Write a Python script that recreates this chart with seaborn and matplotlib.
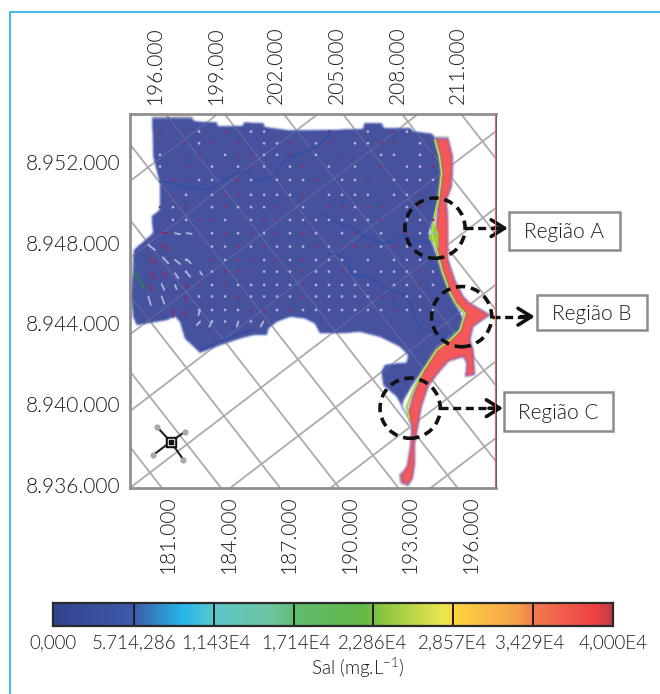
import numpy as np
import pandas as pd
import seaborn as sns
from matplotlib import pyplot as plt
from matplotlib.colors import LinearSegmentedColormap
from matplotlib.lines import Line2D
from matplotlib.patches import Circle, Rectangle

# map coordinates in km: east, and north above 8.936.000
top_ticks = [196, 199, 202, 205, 208, 211]
top_labels = ["196.000", "199.000", "202.000", "205.000", "208.000", "211.000"]
bottom_ticks = [181, 184, 187, 190, 193, 196]
bottom_labels = ["181.000", "184.000", "187.000", "190.000", "193.000", "196.000"]
left_ticks = [16, 12, 8, 4, 0]
left_labels = ["8.952.000", "8.948.000", "8.944.000", "8.940.000", "8.936.000"]
bottom_offset = 15.643

cbar_labels = ["0,000", "5.714,286", "1,143E4", "1,714E4", "2,286E4", "2,857E4", "3,429E4", "4,000E4"]
cbar_max = 40000
cbar_stops = [(0.00, "#33448f"), (0.14, "#3d5aa8"), (0.23, "#25b8ea"), (0.285, "#5cc6cc"),
              (0.39, "#6ec59c"), (0.43, "#5fbb70"), (0.555, "#63b946"), (0.59, "#8cc63f"),
              (0.70, "#ece74f"), (0.715, "#fdd63f"), (0.83, "#f6a04a"), (0.86, "#f17b4c"),
              (0.97, "#ee4044"), (1.00, "#c23b44")]

land_e = [195.87, 197.82, 197.93, 199.06, 199.09, 200.38, 200.41, 201.37, 201.40, 202.69, 204.67, 206.32,
          206.36, 207.22, 207.31, 208.63, 208.79, 209.70, 209.86, 210.11, 210.19, 210.03, 209.86, 209.53,
          209.95, 210.19, 210.61, 210.94, 211.27, 211.10, 210.61, 210.28, 209.86, 209.37, 208.79, 208.30,
          208.21, 208.46, 207.97, 207.31, 207.22, 207.39, 208.13, 208.46, 208.54, 208.13, 207.14, 206.15,
          205.16, 204.17, 203.92, 203.43, 202.69, 202.03, 201.61, 201.53, 200.87, 200.21, 199.22, 198.23,
          197.49, 197.24, 196.99, 196.58, 195.10, 194.93, 194.85, 194.96, 195.92, 195.84, 196.25, 196.25, 195.92]
land_n = [18.15, 18.15, 17.99, 17.94, 17.74, 17.77, 17.94, 17.90, 17.71, 17.54, 17.57, 17.61,
          17.90, 17.90, 17.66, 17.66, 17.49, 17.38, 17.16, 16.25, 15.43, 14.11, 13.45, 12.46,
          11.30, 10.65, 9.49, 8.83, 8.17, 7.51, 7.26, 6.85, 6.27, 5.86, 5.04, 4.21,
          3.88, 3.47, 4.38, 4.95, 5.61, 5.94, 6.03, 6.03, 6.44, 6.85, 7.34, 7.59,
          7.51, 7.51, 8.00, 8.25, 8.33, 8.09, 7.76, 7.43, 7.43, 7.26, 6.93, 6.55,
          7.26, 8.09, 8.37, 8.17, 7.92, 8.33, 9.33, 11.63, 12.46, 13.29, 13.61, 14.93, 16.25]

salt_e = [209.86, 210.52, 210.74, 210.74, 210.69, 210.44, 210.52, 210.52, 210.52, 210.85, 211.27, 211.60,
          212.59, 211.76, 211.60, 211.76, 211.84, 211.35, 211.43, 211.27, 210.52, 209.95, 209.53, 209.20,
          209.04, 208.87, 208.87, 208.76, 208.54, 208.21, 208.16, 208.46, 208.63, 208.71, 208.49, 208.79,
          209.29, 209.95, 210.61, 211.10, 211.35, 210.85, 210.61, 210.19, 209.95, 209.86, 210.03, 210.19, 210.11]
salt_n = [17.16, 17.16, 16.25, 15.60, 14.77, 14.11, 12.95, 12.13, 11.14, 10.15, 9.33, 9.00,
          8.42, 7.84, 7.18, 6.69, 5.45, 5.36, 6.03, 6.35, 6.11, 5.45, 4.87, 3.88,
          2.97, 2.06, 1.07, 0.33, 0.00, 0.08, 0.50, 0.91, 1.90, 2.89, 3.47, 4.54,
          5.69, 6.77, 7.26, 7.67, 8.50, 9.00, 9.49, 10.65, 11.63, 12.46, 14.11, 15.43, 16.25]

mix_e = [209.86, 210.08, 210.19, 210.03, 209.86, 209.70, 209.95, 210.19, 210.61, 210.94, 211.35, 211.10,
         210.61, 209.95, 209.29, 208.79, 208.46, 208.59]
mix_n = [17.08, 16.25, 15.43, 14.11, 13.45, 12.46, 11.63, 10.65, 9.49, 8.91, 8.50, 7.67,
         7.18, 6.69, 5.69, 4.70, 3.88, 3.22]
patch_e = [209.53, 209.86, 210.03, 210.03, 209.78]
patch_n = [12.21, 12.92, 12.46, 11.72, 11.97]

rivers = {
    "r1": ([196.25, 197.24, 197.82, 198.73, 199.88, 200.54, 201.12, 201.86, 202.36, 203.18, 204.00, 204.58, 204.70],
           [15.02, 14.85, 14.69, 14.61, 15.35, 15.51, 15.02, 15.27, 16.01, 16.42, 16.75, 17.25, 17.49]),
    "r2": ([204.17, 204.83, 205.82, 206.48, 207.31, 207.97, 208.30, 208.79, 209.53],
           [13.53, 13.04, 12.71, 12.21, 11.97, 12.05, 12.38, 12.13, 11.97]),
    "r3": ([204.50, 205.00, 205.49, 205.74, 206.56, 207.31, 208.30, 208.63, 208.87, 209.29, 209.95, 210.52],
           [11.39, 11.47, 11.14, 10.40, 10.31, 9.82, 9.41, 9.00, 8.17, 7.68, 7.51, 7.26]),
    "r4": ([198.23, 199.22, 200.21, 200.87], [6.69, 7.10, 7.51, 7.68]),
}

# velocity marks: one string per row, w = light, r = maroon, . = none
dot_cols = [196.25, 196.89, 197.54, 198.18, 198.82, 199.47, 200.11, 200.75, 201.40, 202.04, 202.68,
            203.33, 203.97, 204.61, 205.26, 205.90, 206.54, 207.19, 207.83, 208.47, 209.12, 209.76]
dot_rows = [17.49, 16.91, 16.34, 15.76, 15.10, 14.36, 13.75, 13.12, 12.46, 11.80, 11.14, 10.56, 9.90, 9.33, 8.66, 8.09]
dot_flags = ["r..w.r.ww....r..w.rw..",
             "r.rwr.r.wwr.wr.wwrr.w.",
             "w.rr.wrrwwr.w.r..ww.wr",
             "w.r.w.wrw.wr.w.w.r.wwr",
             ".rrww.rw.wwwr.wwr.wwww",
             ".rw.wrrwwwwr.wwww.wwr.",
             "rwr.wrwwwr.w.rrwrr.wr.",
             ".wwrrw.wrrwwwwwwwr.wwr",
             "....wrwrwrwrw.wr.w.rww",
             "....wwrwrwwwrwrrrwrww.",
             "..w.rwrrwrwrwww.w.www.",
             "..w.wrrrwwwrwwrw.wwwrw",
             "...rwrwwwwwrwwwww.wwrw",
             "...wwwrwwwwrwwwwwrrww.",
             "...wwwwrrwrwwwwwwwrwww",
             "....ww.wr............."]

# larger arrows in the south-west corner: start, end, colour
arrow_e0 = [195.67, 196.33, 195.75, 196.38, 196.99, 197.57, 195.75, 196.33, 196.99, 197.57, 198.23, 195.67,
            196.33, 196.99, 197.54, 195.67, 196.33, 196.89, 197.54, 197.54, 196.33, 196.99, 197.57, 198.23, 198.23, 198.81, 201.37, 200.13]
arrow_n0 = [11.88, 11.88, 11.22, 11.27, 11.14, 11.17, 10.56, 10.56, 10.48, 10.51, 10.56, 9.90,
            9.94, 9.90, 9.95, 9.33, 9.33, 8.66, 9.33, 8.66, 12.46, 12.46, 12.46, 8.66, 8.09, 8.09, 8.09, 8.09]
arrow_e1 = [196.00, 196.66, 196.05, 196.66, 197.24, 197.77, 196.05, 196.61, 197.16, 197.74, 198.33, 195.89,
            196.46, 197.07, 197.60, 195.79, 196.46, 196.89, 197.54, 197.50, 196.66, 197.24, 197.82, 198.15, 198.07, 198.69, 201.23, 200.05]
arrow_n1 = [11.63, 11.63, 10.97, 10.97, 10.94, 10.97, 10.23, 10.28, 10.23, 10.31, 10.40, 9.62,
            9.66, 9.69, 9.74, 8.91, 8.97, 8.33, 9.08, 8.36, 12.46, 12.41, 12.43, 8.41, 7.92, 7.84, 7.84, 7.84]
arrow_kind = ["w", "r", "r", "w", "w", "w", "r", "r", "w", "w", "w", "r",
              "w", "w", "r", "w", "w", "r", "r", "r", "r", "w", "w", "w", "w", "w", "w", "w"]

circle_e = [209.86, 211.18, 208.63]
circle_n = [12.71, 8.33, 3.80]
circle_radius = 1.49
region_names = ["Região A", "Região B", "Região C"]
region_tip_e = [213.47, 214.80, 213.23]

compass_e = [196.08, 197.49, 195.92, 197.41]
compass_n = [2.89, 2.64, 1.49, 1.24]
compass_center = (196.78, 2.14)

grid_color = "#ababab"
land_color = "#47529f"
salt_color = "#f4585a"
mark_colors = {"w": "#a9afd9", "r": "#84306c"}
W, H = 660, 694


def px_axes(x0, y0, x1, y1):
    return [x0 / W, 1 - y1 / H, (x1 - x0) / W, (y1 - y0) / H]


def soften(img, dpi):
    # the source map is a blurry raster, so take the hard edge off
    pad = 2
    out = np.pad(img, ((pad, pad), (pad, pad), (0, 0)))
    kernel = np.array([1, 2, 3, 2, 1]) / 9
    out = np.apply_along_axis(lambda m: np.convolve(m, kernel, mode="same"), 0, out)
    out = np.apply_along_axis(lambda m: np.convolve(m, kernel, mode="same"), 1, out)
    return out, -pad, -pad


sns.set_theme(style="white")
plt.rcParams["font.family"] = ["Lato", "DejaVu Sans"]
plt.rcParams["font.weight"] = 300
plt.rcParams["mathtext.default"] = "regular"
text_color = "#1a1a1a"

fig = plt.figure(figsize=(W / 100, H / 100), dpi=100)
ax = fig.add_axes(px_axes(130, 114, 496, 488))
ax.set_xlim(194.7625, 212.88)
ax.set_ylim(-0.15, 18.36)

# rotated UTM grid behind the model domain
for k in range(-8, 9):
    ax.axline((199.415 + k * 1.832, 3.415 + k * 1.401), slope=-1.28, color=grid_color, lw=1.3, zorder=1)
    ax.axline((199.415 + k * 1.856, 3.415 - k * 2.376), slope=0.765, color=grid_color, lw=1.3, zorder=1)

land = ax.fill(land_e, land_n, color=land_color, ec="#3f55b0", lw=1, zorder=2)[0]
salt = ax.fill(salt_e, salt_n, color=salt_color, ec="#5a50b5", lw=0.9, zorder=3)[0]
land.set_agg_filter(soften)
salt.set_agg_filter(soften)

# grid lines show faintly through the domain
for k in range(-8, 9):
    for line in [ax.axline((199.415 + k * 1.832, 3.415 + k * 1.401), slope=-1.28),
                 ax.axline((199.415 + k * 1.856, 3.415 - k * 2.376), slope=0.765)]:
        line.set(color="#6e719f", lw=0.9, alpha=0.6, zorder=2.1)
        line.set_clip_path(land)

for name, (east, north) in rivers.items():
    sns.lineplot(x=east, y=north, sort=False, estimator=None, color="#2f4fa5", lw=1.2, ax=ax, zorder=2.5)

sns.lineplot(x=mix_e, y=mix_n, sort=False, estimator=None, color="#7cc24a", lw=1.6, ax=ax, zorder=4)
sns.lineplot(x=mix_e, y=mix_n, sort=False, estimator=None, color="#e8e652", lw=0.6, ax=ax, zorder=4.2)
ax.fill(patch_e, patch_n, color="#8fd03f", lw=0, zorder=4.1)

east_grid, north_grid = np.meshgrid(dot_cols, dot_rows)
dots = pd.DataFrame({"east": east_grid.ravel(), "north": north_grid.ravel(), "kind": list("".join(dot_flags))})
dots = dots[dots.kind != "."]
sns.scatterplot(data=dots, x="east", y="north", hue="kind", palette=mark_colors,
                s=4, marker="o", linewidth=0, legend=False, ax=ax, zorder=5)

for e0, n0, e1, n1, kind in zip(arrow_e0, arrow_n0, arrow_e1, arrow_n1, arrow_kind):
    sns.lineplot(x=[e0, e1], y=[n0, n1], sort=False, estimator=None, lw=1.4,
                 color=mark_colors[kind], ax=ax, zorder=5)
sns.lineplot(x=[194.99, 195.46], y=[10.56, 9.74], sort=False, estimator=None, lw=1.2, color="#1f8a4c", ax=ax, zorder=5)

# compass symbol
for e, n in zip(compass_e, compass_n):
    ax.plot([compass_center[0], e], [compass_center[1], n], color="#222222", lw=1.5, zorder=5)
ax.scatter(compass_e, compass_n, s=12, color="#a4aab2", zorder=6)
ax.scatter(*compass_center, s=48, marker="s", color="#111111", zorder=6)
ax.scatter(*compass_center, s=18, marker="s", color="#dfe8ee", zorder=7)
ax.scatter(*compass_center, s=5, marker="s", color="#111111", zorder=8)

# dashed circles, arrows and region boxes
for e, n, tip in zip(circle_e, circle_n, region_tip_e):
    ax.add_patch(Circle((e, n), circle_radius, fill=False, ec="#111111", lw=2.6, ls=(0, (2.6, 1.6)), zorder=9, clip_on=False))
    ax.plot([e + circle_radius, tip - 0.5], [n, n], color="#111111", lw=2.4, ls=(0, (2.4, 1.4)), zorder=9, clip_on=False)
    ax.annotate("", xy=(tip, n), xytext=(tip - 0.7, n), annotation_clip=False, zorder=9,
                arrowprops=dict(arrowstyle="->,head_length=0.8,head_width=0.5", color="#111111", lw=2.6,
                                shrinkA=0, shrinkB=0))

box_px = [(509, 212, 620, 250), (537, 295, 647, 330), (504, 392, 613, 431)]
for name, (x0, y0, x1, y1) in zip(region_names, box_px):
    fig.add_artist(Rectangle((x0 / W, 1 - y1 / H), (x1 - x0) / W, (y1 - y0) / H, transform=fig.transFigure,
                             fc="white", ec="#8c8c8c", lw=1.8))
    fig.text((x0 + x1) / 2 / W, 1 - ((y0 + y1) / 2 + 1) / H, name, ha="center", va="center", fontsize=15,
             color=text_color)

# axes
ax.xaxis.tick_top()
ax.set_xticks(top_ticks, top_labels, rotation=90, fontsize=15, color=text_color)
ax.set_yticks(left_ticks, left_labels, fontsize=15, color=text_color)
ax.tick_params(axis="both", length=0, pad=7)
ax.set_xlabel("")
ax.set_ylabel("")
lower = ax.secondary_xaxis("bottom", functions=(lambda x: x - bottom_offset, lambda x: x + bottom_offset))
lower.set_xticks(bottom_ticks, bottom_labels, rotation=90, fontsize=15, color=text_color)
lower.tick_params(axis="x", length=0, pad=5)
lower.spines["bottom"].set_visible(False)
for side in ["left", "top", "bottom"]:
    ax.spines[side].set_color("#8f8f8f")
    ax.spines[side].set_linewidth(2)
ax.spines["right"].set_color("#5a5a5a")
ax.spines["right"].set_linewidth(1.4)
ax.axvline(212.83, color="#e0665f", lw=0.8, zorder=10)

# colour bar
bar = fig.add_axes(px_axes(53, 603, 613, 626))
bar_values = np.linspace(0, cbar_max, 560).reshape(1, -1)
cmap = LinearSegmentedColormap.from_list("sal", cbar_stops)
sns.heatmap(bar_values, cmap=cmap, vmin=0, vmax=cbar_max, cbar=False, xticklabels=False, yticklabels=False, ax=bar)
for pos in [80, 160, 240, 320, 400, 480]:
    bar.axvline(pos, color="#1c1c1c", lw=1.4)
for side in bar.spines.values():
    side.set_visible(True)
    side.set_color("#2a2a2a")
    side.set_linewidth(1.6)
bar.set_xticks([-1, 80, 162, 242, 319, 399, 477, 560], cbar_labels, rotation=0, fontsize=13.5, color=text_color)
bar.tick_params(axis="x", length=0, pad=6)
fig.text(358 / W, 1 - 668 / H, "Sal (mg.L$^{-1}$)", ha="center", va="center", fontsize=13.5, color=text_color)

# journal frame
fig.add_artist(Line2D([10 / W, 10 / W, 1], [0, 1 - 12 / H, 1 - 12 / H], transform=fig.transFigure, color="#3fb9e2", lw=1.4))

fig.savefig("out.png", dpi=100)
